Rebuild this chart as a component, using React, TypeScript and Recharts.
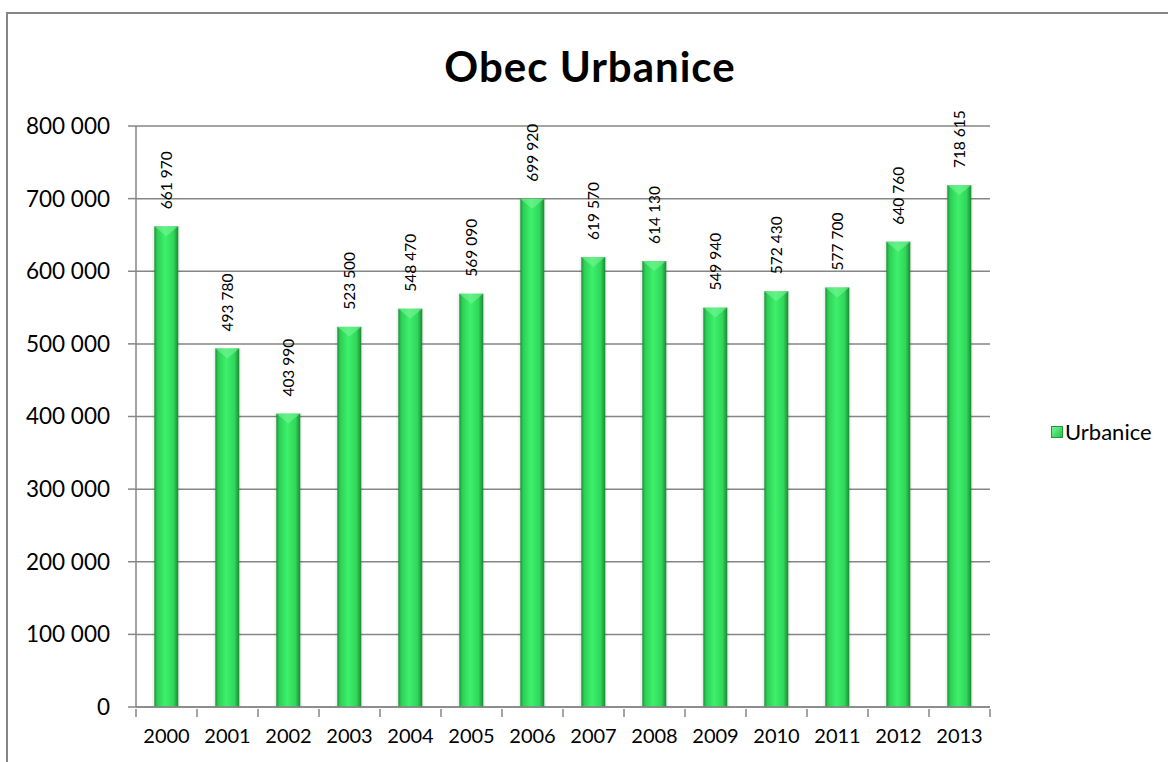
import React from "react";
import { BarChart, Bar, XAxis, YAxis, CartesianGrid, LabelList } from "recharts";

const years = ["2000", "2001", "2002", "2003", "2004", "2005", "2006", "2007", "2008", "2009", "2010", "2011", "2012", "2013"];
const urbanice = [661970, 493780, 403990, 523500, 548470, 569090, 699920, 619570, 614130, 549940, 572430, 577700, 640760, 718615];
const yTicks = [0, 100000, 200000, 300000, 400000, 500000, 600000, 700000, 800000];

const data = years.map((y, i) => ({ year: y, value: urbanice[i] }));

const FONT = "Lato, 'Open Sans', sans-serif";
const AXIS = "#868686";
const BAND = 854 / years.length;

const fmt = (v: number) => String(v).replace(/\B(?=(\d{3})+(?!\d))/g, " ");

const BarShape = (props: any) => {
  const { x, y, width, height } = props;
  if (!height || height <= 0) return null;
  const bev = Math.min(10, height);
  return (
    <g>
      <rect x={x - 2} y={y} width={width + 4} height={height} fill="#000" opacity={0.06} />
      <rect x={x} y={y} width={width} height={height} fill="url(#barGrad)" />
      <polygon points={`${x},${y} ${x + width},${y} ${x + width / 2},${y + bev}`} fill="#7df59a" opacity={0.55} />
    </g>
  );
};

const ValueLabel = (props: any) => {
  const { x, y, width, value } = props;
  const cx = x + width / 2;
  const cy = y - 17;
  return (
    <text
      x={cx}
      y={cy}
      transform={`rotate(-90 ${cx} ${cy})`}
      textAnchor="start"
      dominantBaseline="central"
      fontFamily={FONT}
      fontSize={15.5}
      fill="#000"
    >
      {fmt(value)}
    </text>
  );
};

const XTick = (props: any) => {
  const { x, y, payload, index } = props;
  const left = x - BAND / 2;
  const axisY = y - 8;
  return (
    <g>
      <line x1={left} y1={axisY} x2={left} y2={axisY + 8} stroke={AXIS} strokeWidth={1.5} />
      {index === years.length - 1 && (
        <line x1={x + BAND / 2} y1={axisY} x2={x + BAND / 2} y2={axisY + 8} stroke={AXIS} strokeWidth={1.5} />
      )}
      <text x={x} y={axisY + 34} textAnchor="middle" fontFamily={FONT} fontSize={20} fill="#000">
        {payload.value}
      </text>
    </g>
  );
};

export default function App() {
  return (
    <div style={{ position: "fixed", left: 0, top: 0, width: 1168, height: 762, background: "#fff", overflow: "hidden" }}>
      <div
        style={{
          position: "absolute",
          left: 6,
          top: 12,
          width: 1168,
          height: 800,
          borderLeft: `2px solid ${AXIS}`,
          borderTop: `2px solid ${AXIS}`,
          boxSizing: "border-box",
        }}
      />
      <div
        style={{
          position: "absolute",
          left: 0,
          width: 1180,
          top: 41,
          textAlign: "center",
          fontFamily: FONT,
          fontWeight: 700,
          fontSize: 42,
          letterSpacing: 1,
          color: "#000",
        }}
      >
        Obec Urbanice
      </div>
      <div style={{ position: "absolute", left: 1051, top: 418, display: "flex", alignItems: "center", fontFamily: FONT, fontSize: 22 }}>
        <svg width={12} height={12} style={{ marginRight: 2 }}>
          <rect x={0.5} y={0.5} width={11} height={11} fill="url(#legGrad)" stroke="#1e9a3c" />
          <defs>
            <linearGradient id="legGrad" x1="0" y1="0" x2="1" y2="1">
              <stop offset="0%" stopColor="#7df59a" />
              <stop offset="100%" stopColor="#22c24a" />
            </linearGradient>
          </defs>
        </svg>
        <span>Urbanice</span>
      </div>
      <div style={{ position: "absolute", left: 0, top: 0 }}>
        <BarChart
          width={1168}
          height={762}
          data={data}
          margin={{ top: 126, right: 178, bottom: 0, left: 0 }}
          barCategoryGap="30%"
        >
          <defs>
            <linearGradient id="barGrad" x1="0" y1="0" x2="1" y2="0">
              <stop offset="0%" stopColor="#1c8f38" />
              <stop offset="12%" stopColor="#2ccf55" />
              <stop offset="45%" stopColor="#3ef06c" />
              <stop offset="80%" stopColor="#30d75a" />
              <stop offset="100%" stopColor="#1a8834" />
            </linearGradient>
          </defs>
          <CartesianGrid vertical={false} stroke={AXIS} strokeWidth={1.5} />
          <XAxis
            dataKey="year"
            stroke={AXIS}
            strokeWidth={1.5}
            tickLine={false}
            tick={<XTick />}
            tickSize={8}
            interval={0}
            height={55}
          />
          <YAxis
            domain={[0, 800000]}
            ticks={yTicks}
            interval={0}
            width={136}
            stroke={AXIS}
            strokeWidth={1.5}
            tickSize={8}
            tickFormatter={fmt}
            tick={{ fontFamily: FONT, fontSize: 22.5, fill: "#000" }}
            tickMargin={18}
          />
          <Bar dataKey="value" isAnimationActive={false} shape={<BarShape />}>
            <LabelList dataKey="value" content={<ValueLabel />} />
          </Bar>
        </BarChart>
      </div>
    </div>
  );
}
